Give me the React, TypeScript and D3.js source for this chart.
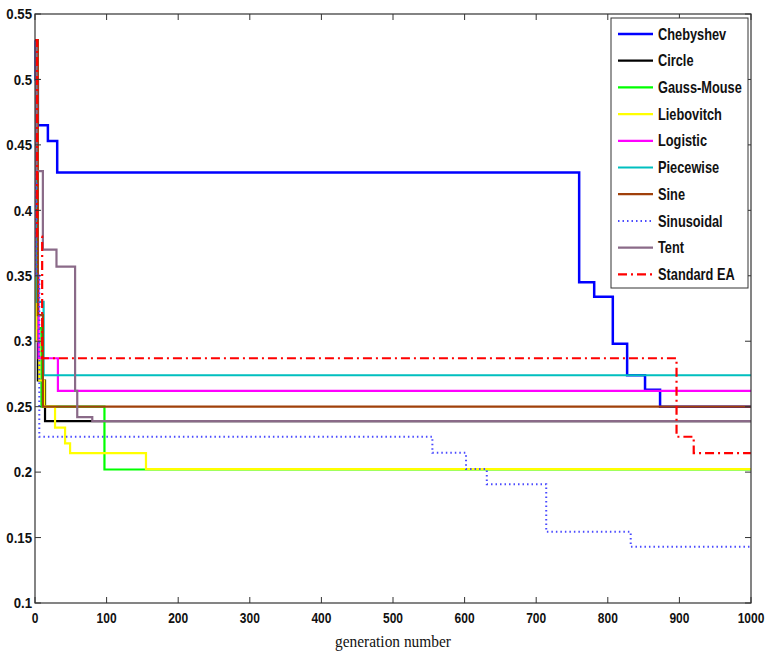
import { useMemo } from 'react';
import * as d3 from 'd3';

// step series: generation where value changes, and the value
const chebyshevGen = [0, 1, 4, 18, 31, 760, 781, 807, 827, 852, 873, 1000];
const chebyshevVal = [0.53, 0.5, 0.465, 0.453, 0.429, 0.345, 0.334, 0.298, 0.274, 0.263, 0.25, 0.25];

const circleGen = [0, 2, 4, 14, 1000];
const circleVal = [0.53, 0.33, 0.27, 0.239, 0.239];

const gaussGen = [0, 2, 9, 97, 1000];
const gaussVal = [0.53, 0.31, 0.25, 0.202, 0.202];

const liebovitchGen = [0, 2, 6, 13, 28, 42, 49, 155, 1000];
const liebovitchVal = [0.53, 0.3, 0.27, 0.25, 0.234, 0.222, 0.2145, 0.2023, 0.2023];

const logisticGen = [0, 2, 5, 32, 1000];
const logisticVal = [0.53, 0.35, 0.287, 0.262, 0.262];

const piecewiseGen = [0, 3, 12, 1000];
const piecewiseVal = [0.53, 0.33, 0.274, 0.274];

const sineGen = [0, 4, 11, 1000];
const sineVal = [0.53, 0.32, 0.25, 0.25];

const sinusoidalGen = [0, 2, 6, 555, 602, 631, 714, 832, 1000];
const sinusoidalVal = [0.53, 0.35, 0.227, 0.2147, 0.2023, 0.1908, 0.1544, 0.143, 0.143];

const tentGen = [0, 2, 11, 30, 56, 59, 62, 80, 1000];
const tentVal = [0.53, 0.43, 0.37, 0.357, 0.262, 0.242, 0.242, 0.239, 0.239];

const standardGen = [0, 3, 10, 896, 920, 1000];
const standardVal = [0.53, 0.38, 0.287, 0.227, 0.2145, 0.2145];

const xTicks = [0, 100, 200, 300, 400, 500, 600, 700, 800, 900, 1000];
const yTicks = [0.1, 0.15, 0.2, 0.25, 0.3, 0.35, 0.4, 0.45, 0.5, 0.55];

interface Series {
  name: string;
  gen: number[];
  val: number[];
  color: string;
  dash?: string;
  width: number;
}

const series: Series[] = [
  { name: 'Chebyshev', gen: chebyshevGen, val: chebyshevVal, color: '#0000ff', width: 2.5 },
  { name: 'Circle', gen: circleGen, val: circleVal, color: '#000000', width: 2.2 },
  { name: 'Gauss-Mouse', gen: gaussGen, val: gaussVal, color: '#00ff00', width: 2.2 },
  { name: 'Liebovitch', gen: liebovitchGen, val: liebovitchVal, color: '#ffff00', width: 2.2 },
  { name: 'Logistic', gen: logisticGen, val: logisticVal, color: '#ff00ff', width: 2.2 },
  { name: 'Piecewise', gen: piecewiseGen, val: piecewiseVal, color: '#00bfbf', width: 2.2 },
  { name: 'Sine', gen: sineGen, val: sineVal, color: '#a0400a', width: 2.2 },
  { name: 'Sinusoidal', gen: sinusoidalGen, val: sinusoidalVal, color: '#4a4aff', dash: '1.5,3', width: 2 },
  { name: 'Tent', gen: tentGen, val: tentVal, color: '#8a6a88', width: 2.2 },
  { name: 'Standard EA', gen: standardGen, val: standardVal, color: '#ff0000', dash: '9,4,2,4', width: 2.2 },
];

const W = 765;
const H = 653;
const margin = { top: 14, right: 14, bottom: 50, left: 35 };
const tickFont = '"Liberation Sans", Arial, sans-serif';

// condensed bold label, like the narrow font of the original
const Narrow = ({ x, y, anchor, size, sx, children }: {
  x: number; y: number; anchor: 'start' | 'middle' | 'end'; size: number; sx: number; children: string;
}) => (
  <g transform={`translate(${x},${y}) scale(${sx},1)`}>
    <text
      x={0}
      y={0}
      dy="0.35em"
      textAnchor={anchor}
      fontFamily={tickFont}
      fontWeight="bold"
      fontSize={size}
      fill="#111"
    >
      {children}
    </text>
  </g>
);

export default function App() {
  const x = useMemo(() => d3.scaleLinear().domain([0, 1000]).range([margin.left, W - margin.right]), []);
  const y = useMemo(() => d3.scaleLinear().domain([0.1, 0.55]).range([H - margin.bottom, margin.top]), []);

  const line = d3
    .line<[number, number]>()
    .x(d => x(d[0]))
    .y(d => y(d[1]))
    .curve(d3.curveStepAfter);

  const x0 = x(0);
  const x1 = x(1000);
  const y0 = y(0.1);
  const y1 = y(0.55);

  const legendX = 611;
  const legendY = 18;
  const legendW = 137;
  const legendH = 270;
  const rowH = 26.7;

  return (
    <svg
      width={W}
      height={H}
      style={{ position: 'absolute', left: 0, top: 0, background: '#fff' }}
    >
      <rect x={0} y={0} width={W} height={H} fill="#fff" />

      {/* series */}
      <g fill="none">
        {series.map(s => (
          <path
            key={s.name}
            d={line(s.gen.map((g, i) => [g, s.val[i]] as [number, number])) || ''}
            stroke={s.color}
            strokeWidth={s.width}
            strokeDasharray={s.dash}
          />
        ))}
      </g>

      {/* frame */}
      <rect x={x0} y={y1} width={x1 - x0} height={y0 - y1} fill="none" stroke="#333" strokeWidth={1.2} />

      {/* x ticks, inward top and bottom */}
      {xTicks.map(t => (
        <g key={'x' + t}>
          <line x1={x(t)} x2={x(t)} y1={y0} y2={y0 - 6} stroke="#333" />
          <line x1={x(t)} x2={x(t)} y1={y1} y2={y1 + 6} stroke="#333" />
          <Narrow x={x(t)} y={y0 + 15} anchor="middle" size={15} sx={0.8}>
            {String(t)}
          </Narrow>
        </g>
      ))}

      {/* y ticks, inward left and right */}
      {yTicks.map(t => (
        <g key={'y' + t}>
          <line x1={x0} x2={x0 + 6} y1={y(t)} y2={y(t)} stroke="#333" />
          <line x1={x1} x2={x1 - 6} y1={y(t)} y2={y(t)} stroke="#333" />
          <Narrow x={x0 - 3} y={y(t)} anchor="end" size={15} sx={0.88}>
            {String(t)}
          </Narrow>
        </g>
      ))}

      <text
        x={(x0 + x1) / 2}
        y={647}
        textAnchor="middle"
        fontFamily='"Liberation Serif", "DejaVu Serif", serif'
        fontSize={17}
        fill="#111"
        textLength={116}
        lengthAdjust="spacingAndGlyphs"
      >
        generation number
      </text>

      {/* legend */}
      <g>
        <rect x={legendX} y={legendY} width={legendW} height={legendH} fill="#fff" stroke="#333" strokeWidth={1} />
        {series.map((s, i) => {
          const cy = legendY + 16 + i * rowH;
          return (
            <g key={'lg' + s.name}>
              <line
                x1={legendX + 7}
                x2={legendX + 42}
                y1={cy}
                y2={cy}
                stroke={s.color}
                strokeWidth={s.width}
                strokeDasharray={s.dash}
              />
              <Narrow x={legendX + 47} y={cy} anchor="start" size={16} sx={0.8}>
                {s.name}
              </Narrow>
            </g>
          );
        })}
      </g>
    </svg>
  );
}
